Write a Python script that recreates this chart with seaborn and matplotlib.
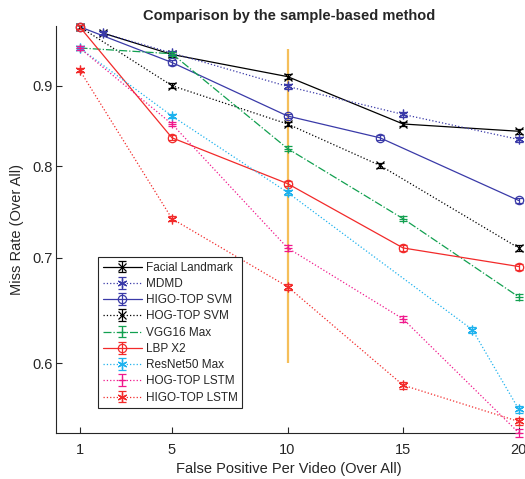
import matplotlib
matplotlib.use("Agg")
import matplotlib.pyplot as plt
import seaborn as sns
from matplotlib.ticker import FixedLocator, FixedFormatter, NullLocator

# false positives per video (x positions of each curve)
fp_from2 = [2, 5, 10, 15, 20]
fp_svm = [1, 5, 10, 14, 20]
fp_std = [1, 5, 10, 15, 20]
fp_resnet = [1, 5, 10, 18, 20]

# miss rate per method
facial_landmark = [0.972, 0.942, 0.912, 0.851, 0.842]
mdmd = [0.972, 0.944, 0.899, 0.863, 0.832]
higo_top_svm = [0.981, 0.931, 0.861, 0.834, 0.761]
hog_top_svm = [0.981, 0.900, 0.851, 0.801, 0.710]
vgg16_max = [0.951, 0.943, 0.821, 0.741, 0.661]
lbp_x2 = [0.981, 0.834, 0.780, 0.710, 0.691]
resnet50_max = [0.951, 0.861, 0.770, 0.630, 0.561]
hog_top_lstm = [0.951, 0.851, 0.710, 0.640, 0.542]
higo_top_lstm = [0.921, 0.741, 0.671, 0.581, 0.551]

err = 0.003  # small std shown as caps on markers

# vertical reference at 10 FPPV
ref_x = 10
ref_lo, ref_hi = 0.60, 0.95

x_ticks = [1, 5, 10, 15, 20]
y_ticks = [0.6, 0.7, 0.8, 0.9]

AST = (6, 2, 0)  # matlab-like asterisk
series = [
    ("Facial Landmark", fp_from2, facial_landmark, "black", "-", "x"),
    ("MDMD", fp_from2, mdmd, "#3a3aa8", ":", AST),
    ("HIGO-TOP SVM", fp_svm, higo_top_svm, "#3a3aa8", "-", "o"),
    ("HOG-TOP SVM", fp_svm, hog_top_svm, "black", ":", "x"),
    ("VGG16 Max", fp_std, vgg16_max, "#12a050", "-.", "+"),
    ("LBP X2", fp_std, lbp_x2, "#f22a2a", "-", "o"),
    ("ResNet50 Max", fp_resnet, resnet50_max, "#1eb2ee", ":", AST),
    ("HOG-TOP LSTM", fp_std, hog_top_lstm, "#f0188c", ":", "+"),
    ("HIGO-TOP LSTM", fp_std, higo_top_lstm, "#f22a2a", ":", AST),
]

sns.set_theme(style="ticks")
plt.rcParams.update({
    "font.family": ["Liberation Sans", "DejaVu Sans"],
    "xtick.direction": "in",
    "ytick.direction": "in",
    "axes.edgecolor": "#262626",
    "axes.linewidth": 0.8,
    "xtick.color": "#262626",
    "ytick.color": "#262626",
})

fig = plt.figure(figsize=(5.25, 4.79), dpi=100)
ax = fig.add_axes([56.4 / 525, (479 - 433) / 479, (521 - 56.4) / 525, (433 - 26) / 479])

ax.vlines(ref_x, ref_lo, ref_hi, color="#f5bf5a", lw=1.6, zorder=1)

handles = []
for name, xs, ys, col, ls, mk in series:
    ms = 7 if mk == AST else 6
    sns.lineplot(x=xs, y=ys, ax=ax, color=col, linestyle=ls, marker=mk,
                 markersize=ms, markerfacecolor="none", markeredgecolor=col,
                 markeredgewidth=0.9, linewidth=0.9, errorbar=None,
                 clip_on=False, zorder=3)
    line = ax.get_lines()[-1]
    eb = ax.errorbar(xs, ys, yerr=[err] * len(ys), fmt="none", ecolor=col,
                     elinewidth=0.9, capsize=3, capthick=0.9, zorder=3)
    for c in eb[1]:
        c.set_clip_on(False)
    handles.append((line, eb))

ax.set_yscale("log")
ax.set_xlim(0, 20.1)
ax.set_ylim(0.5418, 0.982)
ax.xaxis.set_major_locator(FixedLocator(x_ticks))
ax.yaxis.set_major_locator(FixedLocator(y_ticks))
ax.yaxis.set_major_formatter(FixedFormatter([str(v) for v in y_ticks]))
ax.yaxis.set_minor_locator(NullLocator())
ax.tick_params(axis="both", labelsize=10.5, length=4, width=0.8)
ax.tick_params(axis="x", pad=7)
ax.tick_params(axis="y", pad=2.5)
sns.despine(ax=ax)

ax.set_title("Comparison by the sample-based method", fontsize=10.5,
             fontweight="bold", pad=4)
ax.set_xlabel("False Positive Per Video (Over All)", fontsize=10.5, color="#262626")
ax.set_ylabel("Miss Rate (Over All)", fontsize=10.5, color="#262626", labelpad=6)

leg = ax.legend(handles, [s[0] for s in series], loc="upper left",
                bbox_to_anchor=(98 / 525, 1 - 257 / 479),
                bbox_transform=fig.transFigure, fontsize=8.5,
                frameon=True, fancybox=False, framealpha=1,
                edgecolor="#262626", handlelength=3.3, handletextpad=0.35,
                labelspacing=0.36, borderpad=0.4, borderaxespad=0)
leg.get_frame().set_linewidth(0.8)

fig.savefig("out.png", dpi=100)
